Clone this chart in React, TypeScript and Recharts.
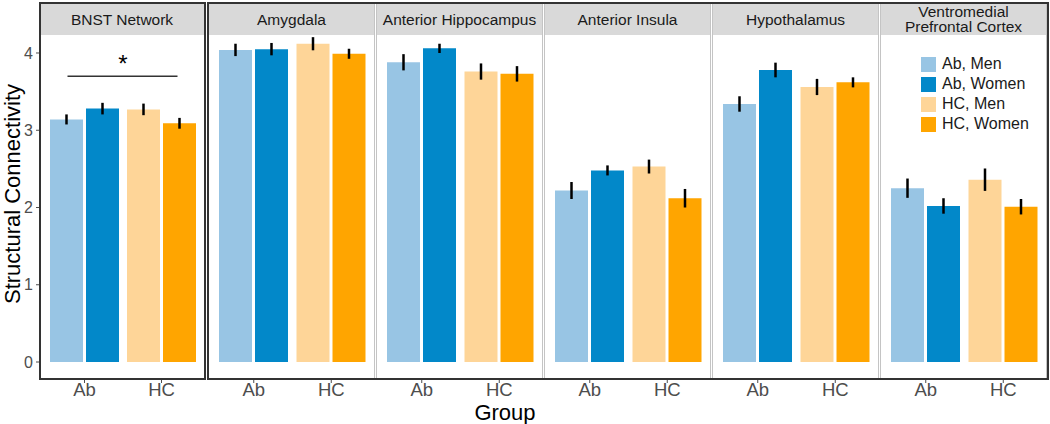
import React from "react";
import { BarChart, Bar, Cell, XAxis, YAxis, ErrorBar, ReferenceLine } from "recharts";

const regions = [
  "BNST Network",
  "Amygdala",
  "Anterior Hippocampus",
  "Anterior Insula",
  "Hypothalamus",
  "Ventromedial\nPrefrontal Cortex",
];
const groups = ["Ab", "HC"];

// means
const abMen = [3.14, 4.04, 3.88, 2.22, 3.34, 2.25];
const abWomen = [3.28, 4.05, 4.06, 2.48, 3.78, 2.02];
const hcMen = [3.27, 4.12, 3.76, 2.53, 3.56, 2.36];
const hcWomen = [3.09, 3.99, 3.73, 2.12, 3.62, 2.01];

// standard errors
const abMenSe = [0.065, 0.08, 0.105, 0.11, 0.1, 0.125];
const abWomenSe = [0.075, 0.08, 0.06, 0.065, 0.095, 0.1];
const hcMenSe = [0.075, 0.085, 0.105, 0.09, 0.105, 0.145];
const hcWomenSe = [0.07, 0.065, 0.1, 0.12, 0.065, 0.1];

const legendLabels = ["Ab, Men", "Ab, Women", "HC, Men", "HC, Women"];
const colors = ["#98c5e4", "#0288c9", "#fed598", "#ffa500"];
const yTicks = [0, 1, 2, 3, 4];
const sigLevel = 3.7;

const FONT = "'Liberation Sans', Arial, Helvetica, sans-serif";
const H = 424;
const TOP = 35;
const BOTTOM = 379;
const X_AXIS_H = 30;
const panelLeft = [40, 209, 377, 545, 713, 881];
const panelW = [164, 165, 165, 165, 165, 165];

function panelData(i: number) {
  return groups.map((g, j) => ({
    group: g,
    men: j === 0 ? abMen[i] : hcMen[i],
    women: j === 0 ? abWomen[i] : hcWomen[i],
    menSe: j === 0 ? abMenSe[i] : hcMenSe[i],
    womenSe: j === 0 ? abWomenSe[i] : hcWomenSe[i],
  }));
}

const SigLine = (props: any) => (
  <line
    x1={props.x1 - 17}
    y1={props.y1}
    x2={props.x2 + 16}
    y2={props.y2}
    stroke="#333"
    strokeWidth={1.5}
  />
);

function Panel({ i }: { i: number }) {
  const first = i === 0;
  const left = first ? 0 : panelLeft[i];
  const width = first ? panelLeft[0] + panelW[0] : panelW[i];
  return (
    <div style={{ position: "absolute", left, top: 0 }}>
      <BarChart
        width={width}
        height={H}
        data={panelData(i)}
        margin={{ top: TOP, right: 0, bottom: H - BOTTOM - X_AXIS_H, left: 0 }}
        barSize={33}
        barGap={3}
      >
        <XAxis
          dataKey="group"
          padding={{ left: 6, right: 4 }}
          axisLine={false}
          tickLine={{ stroke: "#4d4d4d" }}
          tickSize={4}
          tickMargin={0}
          height={X_AXIS_H}
          interval={0}
          tick={{ fontSize: 18.5, fill: "#4d4d4d", fontFamily: FONT }}
        />
        <YAxis
          type="number"
          domain={[-0.22, 4.233]}
          allowDataOverflow
          ticks={yTicks}
          hide={!first}
          width={40}
          axisLine={false}
          tickLine={{ stroke: "#4d4d4d" }}
          tickSize={4}
          tickMargin={3}
          tick={{ fontSize: 16, fill: "#4d4d4d", fontFamily: FONT }}
        />
        <Bar dataKey="men" isAnimationActive={false}>
          {groups.map((g, j) => (
            <Cell key={g} fill={colors[j * 2]} />
          ))}
          <ErrorBar dataKey="menSe" width={0} stroke="#000" strokeWidth={2.5} />
        </Bar>
        <Bar dataKey="women" isAnimationActive={false}>
          {groups.map((g, j) => (
            <Cell key={g} fill={colors[j * 2 + 1]} />
          ))}
          <ErrorBar dataKey="womenSe" width={0} stroke="#000" strokeWidth={2.5} />
        </Bar>
        {first && (
          <ReferenceLine
            segment={[
              { x: "Ab", y: sigLevel },
              { x: "HC", y: sigLevel },
            ]}
            shape={SigLine}
            label={{ value: "*", position: "top", offset: 4, fontSize: 24, fill: "#000", fontFamily: FONT }}
          />
        )}
      </BarChart>
    </div>
  );
}

export default function App() {
  return (
    <div
      style={{
        position: "absolute",
        left: 0,
        top: 0,
        width: 1050,
        height: H,
        background: "#fff",
        fontFamily: FONT,
        overflow: "hidden",
      }}
    >
      {/* facet strips */}
      {regions.map((r, i) => (
        <div
          key={r}
          style={{
            position: "absolute",
            left: panelLeft[i],
            top: 3,
            width: panelW[i],
            height: TOP - 3,
            background: "#d9d9d9",
            display: "flex",
            alignItems: "center",
            justifyContent: "center",
            textAlign: "center",
            whiteSpace: "pre-line",
            fontSize: 15.5,
            lineHeight: "15px",
            color: "#1a1a1a",
          }}
        >
          {r}
        </div>
      ))}

      {regions.map((r, i) => (
        <Panel key={r} i={i} />
      ))}

      {/* light panel borders */}
      {regions.slice(1).map((r, k) => (
        <div
          key={r}
          style={{
            position: "absolute",
            left: panelLeft[k + 1] - 1,
            top: 3,
            width: panelW[k + 1] + 2,
            height: BOTTOM - 3,
            border: "1px solid #c4c4c4",
            boxSizing: "border-box",
          }}
        />
      ))}

      {/* dark outer boxes */}
      <div
        style={{
          position: "absolute",
          left: 39,
          top: 2,
          width: 167,
          height: BOTTOM - 1,
          border: "2px solid #333",
          boxSizing: "border-box",
        }}
      />
      <div
        style={{
          position: "absolute",
          left: 207,
          top: 2,
          width: 842,
          height: BOTTOM - 1,
          border: "2px solid #333",
          boxSizing: "border-box",
        }}
      />

      {/* legend */}
      <div style={{ position: "absolute", left: 921, top: 54 }}>
        {legendLabels.map((l, k) => (
          <div key={l} style={{ display: "flex", alignItems: "center", height: 20 }}>
            <div style={{ width: 15, height: 15, background: colors[k], marginRight: 6 }} />
            <span style={{ fontSize: 16, color: "#1a1a1a" }}>{l}</span>
          </div>
        ))}
      </div>

      {/* axis titles */}
      <div
        style={{
          position: "absolute",
          left: 13,
          top: 194,
          transform: "translate(-50%, -50%) rotate(-90deg)",
          whiteSpace: "nowrap",
          fontSize: 22,
          lineHeight: "22px",
          color: "#000",
        }}
      >
        Structural Connectivity
      </div>
      <div
        style={{
          position: "absolute",
          left: 505,
          top: 413,
          transform: "translate(-50%, -50%)",
          whiteSpace: "nowrap",
          fontSize: 22,
          lineHeight: "22px",
          color: "#000",
        }}
      >
        Group
      </div>
    </div>
  );
}
